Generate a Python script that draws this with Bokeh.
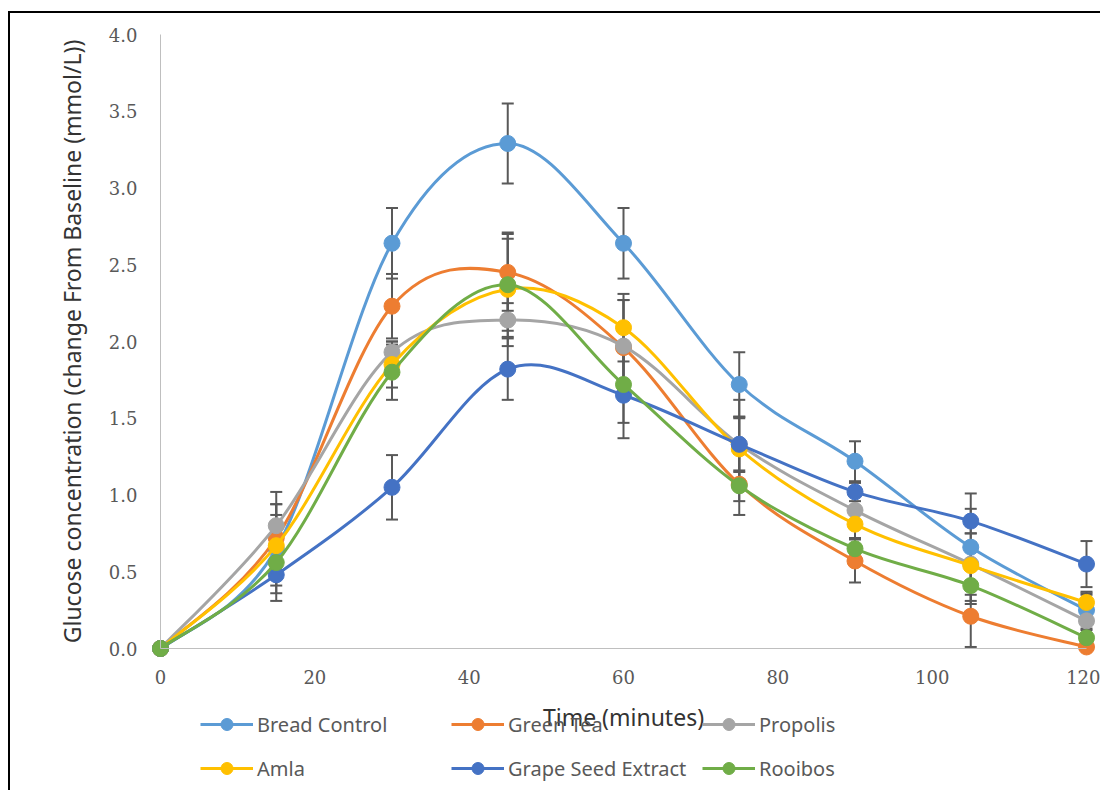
import numpy as np
from bokeh.plotting import figure
from bokeh.models import (ColumnDataSource, Whisker, TeeHead, Legend, LegendItem,
                          FixedTicker, NumeralTickFormatter, Range1d)
from bokeh.embed import file_html
from bokeh.resources import INLINE

# ---------------- data ----------------
time_min = [0, 15, 30, 45, 60, 75, 90, 105, 120]
series_names = ["Bread Control", "Green Tea", "Propolis", "Amla", "Grape Seed Extract", "Rooibos"]
bread_control = [0, 0.65, 2.64, 3.29, 2.64, 1.72, 1.22, 0.66, 0.25]
green_tea = [0, 0.72, 2.23, 2.45, 1.96, 1.07, 0.57, 0.21, 0.01]
propolis = [0, 0.80, 1.93, 2.14, 1.97, 1.33, 0.90, 0.55, 0.18]
amla = [0, 0.67, 1.85, 2.34, 2.09, 1.30, 0.81, 0.54, 0.30]
grape_seed = [0, 0.48, 1.05, 1.82, 1.65, 1.33, 1.02, 0.83, 0.55]
rooibos = [0, 0.56, 1.80, 2.37, 1.72, 1.06, 0.65, 0.41, 0.07]

bread_err = [0, 0.29, 0.23, 0.26, 0.23, 0.21, 0.13, 0.35, 0.12]
green_tea_err = [0, 0.22, 0.21, 0.25, 0.31, 0.20, 0.14, 0.20, 0.02]
propolis_err = [0, 0.22, 0.07, 0.11, 0.30, 0.18, 0.18, 0.20, 0.18]
amla_err = [0, 0.20, 0.15, 0.37, 0.22, 0.20, 0.09, 0.15, 0.05]
grape_err = [0, 0.17, 0.21, 0.20, 0.28, 0.29, 0.06, 0.08, 0.15]
rooibos_err = [0, 0.15, 0.18, 0.30, 0.25, 0.10, 0.07, 0.12, 0.05]

x_ticks = [0, 20, 40, 60, 80, 100, 120]
y_ticks = [0.0, 0.5, 1.0, 1.5, 2.0, 2.5, 3.0, 3.5, 4.0]
x_title = "Time (minutes)"
y_title = "Glucose concentration (change From Baseline (mmol/L))"

colors = ["#5B9BD5", "#ED7D31", "#A5A5A5", "#FFC000", "#4472C4", "#70AD47"]
values = [bread_control, green_tea, propolis, amla, grape_seed, rooibos]
errors = [bread_err, green_tea_err, propolis_err, amla_err, grape_err, rooibos_err]

LABEL_FONT = "Noto Sans"
TICK_FONT = "DejaVu Serif"

# ---------------- layout (pixels) ----------------
W, H = 1100, 790            # canvas size
X0_PX, X1_PX = 160, 1086    # canvas x of time 0 and time 120
Y0_PX, Y1_PX = 648, 34      # canvas y of 0.0 and 4.0
BORDER_X_PX, BORDER_Y_PX = 8.5, 11.5   # chart-area border corner


def smooth_segments(xs, ys):
    """Catmull-Rom style Bezier control points (Excel-like smoothed line)."""
    x = np.asarray(xs, float)
    y = np.asarray(ys, float)
    xp = np.concatenate([[x[0]], x, [x[-1]]])
    yp = np.concatenate([[y[0]], y, [y[-1]]])
    n = len(x)
    d = dict(x0=[], y0=[], x1=[], y1=[], cx0=[], cy0=[], cx1=[], cy1=[])
    for i in range(n - 1):
        p0x, p1x, p2x, p3x = xp[i], xp[i + 1], xp[i + 2], xp[i + 3]
        p0y, p1y, p2y, p3y = yp[i], yp[i + 1], yp[i + 2], yp[i + 3]
        d["x0"].append(p1x); d["y0"].append(p1y)
        d["x1"].append(p2x); d["y1"].append(p2y)
        d["cx0"].append(p1x + (p2x - p0x) / 6.0)
        d["cy0"].append(p1y + (p2y - p0y) / 6.0)
        d["cx1"].append(p2x - (p3x - p1x) / 6.0)
        d["cy1"].append(p2y - (p3y - p1y) / 6.0)
    return d


# ranges chosen so the data area sits where the reference draws it,
# while the frame covers the whole canvas (so nothing is clipped)
xmin, xmax = x_ticks[0], x_ticks[-1]
ymin, ymax = y_ticks[0], y_ticks[-1]
xs = (X1_PX - X0_PX) / (xmax - xmin)
ys = (Y0_PX - Y1_PX) / (ymax - ymin)
x_range = Range1d(xmin - X0_PX / xs, xmax + (W - X1_PX) / xs)
y_range = Range1d(ymin - (H - Y0_PX) / ys, ymax + Y1_PX / ys)

p = figure(frame_width=W, frame_height=H, x_range=x_range, y_range=y_range,
           output_backend="svg", toolbar_location=None,
           min_border_left=0, min_border_right=0,
           min_border_top=0, min_border_bottom=0)
p.outline_line_color = None
p.xgrid.visible = False
p.ygrid.visible = False
p.background_fill_color = "white"
p.border_fill_color = "white"

# chart-area border: top and left edges, starting at the corner
bx = x_range.start + BORDER_X_PX / xs
by = y_range.end - BORDER_Y_PX / ys
p.segment(x0=[bx, bx], y0=[by, by], x1=[x_range.end, bx], y1=[by, y_range.start],
          line_color="black", line_width=2, line_cap="square")

for ax in (p.xaxis[0], p.yaxis[0]):
    ax.fixed_location = 0
    ax.axis_line_color = "#BFBFBF"
    ax.axis_line_width = 1
    ax.major_tick_line_color = None
    ax.minor_tick_line_color = None
    ax.major_label_text_font = TICK_FONT
    ax.major_label_text_font_size = "18px"
    ax.major_label_text_color = "#595959"
    ax.axis_label_text_font = LABEL_FONT
    ax.axis_label_text_font_style = "normal"

p.xaxis.bounds = (xmin, xmax)
p.yaxis.bounds = (ymin, ymax)
p.xaxis.ticker = FixedTicker(ticks=x_ticks)
p.yaxis.ticker = FixedTicker(ticks=y_ticks)
p.yaxis.formatter = NumeralTickFormatter(format="0.0")
p.xaxis.major_label_standoff = 15
p.yaxis.major_label_standoff = 17
p.xaxis.axis_label = x_title
p.yaxis.axis_label = y_title
p.xaxis.axis_label_text_font_size = "23px"
p.yaxis.axis_label_text_font_size = "23px"
p.xaxis.axis_label_text_color = "#333333"
p.yaxis.axis_label_text_color = "#333333"
p.xaxis.axis_label_standoff = 14
p.yaxis.axis_label_standoff = 18

items = []
for name, vals, errs, col in zip(series_names, values, errors, colors):
    lo = [v - e for v, e in zip(vals, errs)]
    hi = [v + e for v, e in zip(vals, errs)]
    esrc = ColumnDataSource(dict(x=time_min, lower=lo, upper=hi))
    w = Whisker(source=esrc, base="x", lower="lower", upper="upper",
                line_color="#595959", line_width=2, level="underlay",
                upper_head=TeeHead(size=12, line_color="#595959", line_width=2),
                lower_head=TeeHead(size=12, line_color="#595959", line_width=2))
    p.add_layout(w)

    bsrc = ColumnDataSource(smooth_segments(time_min, vals))
    br = p.bezier(x0="x0", y0="y0", x1="x1", y1="y1", cx0="cx0", cy0="cy0",
                  cx1="cx1", cy1="cy1", source=bsrc, line_color=col, line_width=3)
    sr = p.scatter(x=time_min, y=vals, size=16, marker="circle",
                   fill_color=col, line_color=col)
    items.append(LegendItem(label=name, renderers=[br, sr]))

lg = Legend(items=items, location=(200, 7), orientation="horizontal", ncols=3,
            padding=0, margin=0,
            border_line_alpha=0, background_fill_alpha=0,
            glyph_width=53, glyph_height=30, label_height=30, label_width=180,
            label_standoff=4, spacing=14,
            label_text_font=LABEL_FONT, label_text_font_size="20px",
            label_text_color="#595959")
p.add_layout(lg, "center")

open("out.html", "w").write(file_html(p, INLINE))
